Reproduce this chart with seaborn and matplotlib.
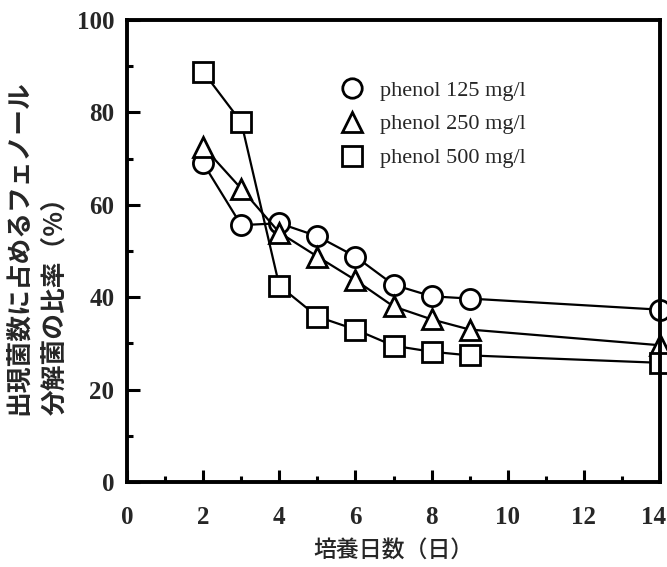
import matplotlib
matplotlib.use("Agg")
import matplotlib.pyplot as plt
from matplotlib.lines import Line2D
from matplotlib.ticker import MultipleLocator
from matplotlib.transforms import ScaledTranslation
import pandas as pd
import seaborn as sns

# Culture days and fraction of phenol-degrading bacteria (%)
days = [2, 3, 4, 5, 6, 7, 8, 9, 14]
phenol_125 = [69.0, 55.6, 56.0, 53.2, 48.8, 42.7, 40.2, 39.7, 37.3]
phenol_250 = [72.6, 63.5, 54.0, 48.8, 43.7, 38.0, 35.2, 33.0, 29.6]
phenol_500 = [88.8, 77.9, 42.5, 35.8, 33.0, 29.5, 28.2, 27.4, 25.8]

series_labels = ["phenol 125 mg/l", "phenol 250 mg/l", "phenol 500 mg/l"]
series_markers = ["o", "^", "s"]

x_ticks = [0, 2, 4, 6, 8, 10, 12, 14]
y_ticks = [0, 20, 40, 60, 80, 100]

ylabel_lines = ["出現菌数に占めるフェノール", "分解菌の比率（%）"]
xlabel_text = "培養日数（日）"

df = pd.DataFrame({
    "day": days * 3,
    "ratio": phenol_125 + phenol_250 + phenol_500,
    "series": sum([[lab] * len(days) for lab in series_labels], []),
})

sns.set_theme(style="ticks")
plt.rcParams["font.family"] = ["Liberation Serif", "DejaVu Sans"]

W, H = 667, 567
fig = plt.figure(figsize=(W / 100, H / 100), dpi=100)
ax = fig.add_axes([127 / W, 1 - 482 / H, (660 - 127) / W, (482 - 20) / H])

for lab, mk in zip(series_labels, series_markers):
    sub = df[df["series"] == lab]
    sns.lineplot(data=sub, x="day", y="ratio", ax=ax, color="black",
                 linewidth=1.6, marker=mk, markersize=14.5,
                 markerfacecolor="white", markeredgecolor="black",
                 markeredgewidth=2.0, legend=False, clip_on=False,
                 estimator=None, sort=False)

ax.set_xlim(0, 14)
ax.set_ylim(0, 100)
ax.set_xticks(x_ticks)
ax.set_yticks(y_ticks)
ax.xaxis.set_minor_locator(MultipleLocator(1))
ax.yaxis.set_minor_locator(MultipleLocator(10))
ax.tick_params(which="major", direction="in", length=9, width=2.2,
               labelsize=18, color="black")
ax.tick_params(which="minor", direction="in", length=4.5, width=2.2,
               color="black")
ax.tick_params(axis="x", which="major", pad=17)
ax.tick_params(axis="y", which="major", pad=9)
for lbl in ax.get_xticklabels() + ax.get_yticklabels():
    lbl.set_fontweight("bold")
    lbl.set_fontfamily("Liberation Serif")
# the last day label sits just inside the figure edge
last = ax.get_xticklabels()[-1]
last.set_horizontalalignment("right")
last.set_transform(last.get_transform()
                   + ScaledTranslation(6 / 100, 0, fig.dpi_scale_trans))
for sp in ax.spines.values():
    sp.set_linewidth(2.8)
    sp.set_color("black")
    sp.set_visible(True)
ax.set_xlabel("")
ax.set_ylabel("")

handles = [Line2D([], [], linestyle="none", marker=mk, markersize=14,
                  markerfacecolor="white", markeredgecolor="black",
                  markeredgewidth=2.0, label=lab)
           for lab, mk in zip(series_labels, series_markers)]
leg = ax.legend(handles=handles, loc="upper left",
                bbox_to_anchor=((341 - 127) / (660 - 127), (482 - 80) / (482 - 20)),
                frameon=False, handlelength=1.0, handletextpad=0.75,
                labelspacing=0.6, borderpad=0, borderaxespad=0,
                prop={"family": "Liberation Serif", "size": 16})

ylab_kw = dict(rotation=90, ha="center", va="bottom", fontsize=18.5,
               fontweight="bold", family=["Noto Sans CJK JP", "DejaVu Sans"])
fig.text(20 / W, 1 - 415 / H, ylabel_lines[0], **ylab_kw)
fig.text(55 / W, 1 - 415 / H, ylabel_lines[1], **ylab_kw)
fig.text(393 / W, 1 - 550 / H, xlabel_text, ha="center", va="center",
         fontsize=16.5, fontweight="medium",
         family=["Noto Sans CJK JP", "DejaVu Sans"])

fig.savefig("out.png", dpi=100)
